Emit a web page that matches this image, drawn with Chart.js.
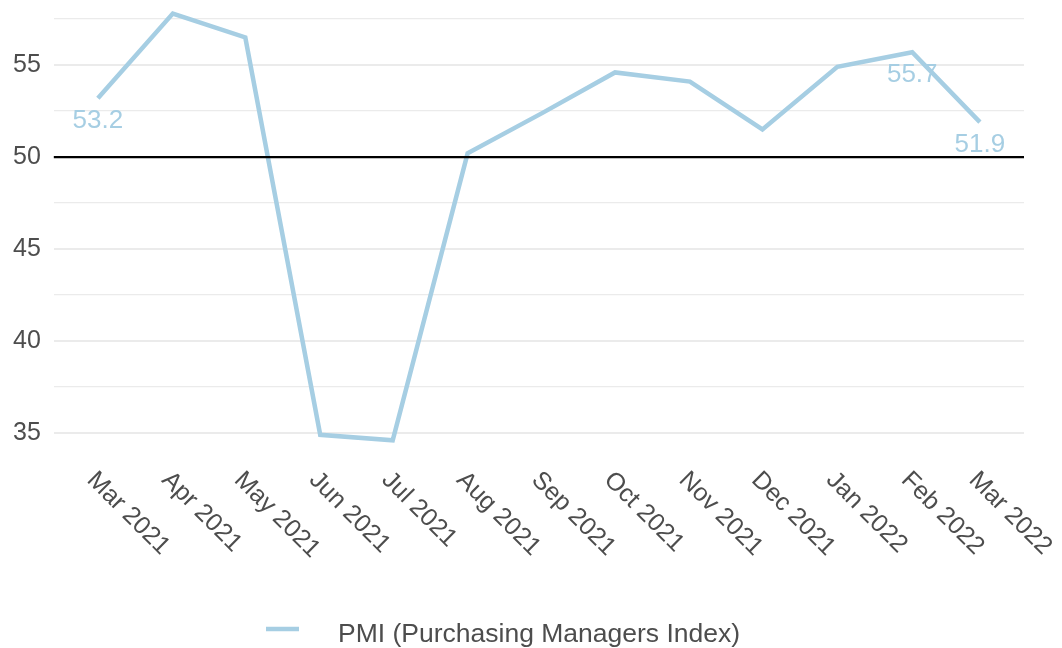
<!DOCTYPE html>
<html>
<head>
<meta charset="utf-8">
<script src="https://cdn.jsdelivr.net/npm/chart.js@4/dist/chart.umd.min.js"></script>
<style>
  html, body { margin: 0; padding: 0; background: #ffffff; }
  #wrap { width: 1062px; height: 648px; position: relative; }
</style>
</head>
<body>
<div id="wrap"><canvas id="myChart"></canvas></div>
<script>
// data
const dates = ["2021-03-01", "2021-04-01", "2021-05-01", "2021-06-01", "2021-07-01", "2021-08-01",
               "2021-09-01", "2021-10-01", "2021-11-01", "2021-12-01", "2022-01-01", "2022-02-01", "2022-03-01"];
const monthLabels = ["Mar 2021", "Apr 2021", "May 2021", "Jun 2021", "Jul 2021", "Aug 2021",
                     "Sep 2021", "Oct 2021", "Nov 2021", "Dec 2021", "Jan 2022", "Feb 2022", "Mar 2022"];
const pmi = [53.2, 57.8, 56.5, 34.9, 34.6, 50.2, 52.4, 54.6, 54.1, 51.5, 54.9, 55.7, 51.9];
const labelledPoints = [0, 11, 12];
const yTicks = [35, 37.5, 40, 42.5, 45, 47.5, 50, 52.5, 55, 57.5];
const refValue = 50;
const seriesName = "PMI (Purchasing Managers Index)";

const lineColor = "#a6cee3";
const textColor = "#4d4d4d";
const fontFamily = "'Liberation Sans', Arial, sans-serif";

// dates -> days since first month, for a linear x scale
const day0 = Date.parse(dates[0]);
const xDays = dates.map(d => (Date.parse(d) - day0) / 86400000);
const span = xDays[xDays.length - 1];

const points = xDays.map((x, i) => ({ x: x, y: pmi[i] }));

const extras = {
    id: "extras",
    afterDatasetsDraw(chart) {
        const ctx = chart.ctx;
        const ys = chart.scales.y;
        const area = chart.chartArea;

        // reference line
        const yRef = ys.getPixelForValue(refValue);
        ctx.save();
        ctx.strokeStyle = "#000000";
        ctx.lineWidth = 2.3;
        ctx.beginPath();
        ctx.moveTo(area.left, yRef);
        ctx.lineTo(area.right, yRef);
        ctx.stroke();
        ctx.restore();

        // value labels
        const meta = chart.getDatasetMeta(0);
        ctx.save();
        ctx.fillStyle = lineColor;
        ctx.font = "26px " + fontFamily;
        ctx.textAlign = "center";
        ctx.textBaseline = "alphabetic";
        labelledPoints.forEach(i => {
            const p = meta.data[i];
            ctx.fillText(pmi[i].toFixed(1), p.x, p.y + 30);
        });
        ctx.restore();
    },
    afterDraw(chart) {
        const ctx = chart.ctx;
        const xs = chart.scales.x;

        // rotated month labels
        ctx.save();
        ctx.fillStyle = textColor;
        ctx.font = "25px " + fontFamily;
        ctx.textAlign = "left";
        ctx.textBaseline = "alphabetic";
        xDays.forEach((d, i) => {
            const px = xs.getPixelForValue(d);
            ctx.save();
            ctx.translate(px - 12, 481);
            ctx.rotate(Math.PI / 4);
            ctx.fillText(monthLabels[i], 0, 0);
            ctx.restore();
        });
        ctx.restore();

        // legend
        ctx.save();
        ctx.strokeStyle = lineColor;
        ctx.lineWidth = 4.5;
        ctx.beginPath();
        ctx.moveTo(266, 629);
        ctx.lineTo(299, 629);
        ctx.stroke();
        ctx.fillStyle = textColor;
        ctx.font = "26.5px " + fontFamily;
        ctx.textAlign = "left";
        ctx.textBaseline = "alphabetic";
        ctx.fillText(seriesName, 338, 642);
        ctx.restore();
    }
};

var chart = new Chart("myChart", {
    type: "line",
    data: {
        datasets: [
            {
                label: seriesName,
                data: points,
                borderColor: lineColor,
                borderWidth: 4.5,
                pointRadius: 0,
                pointHoverRadius: 0,
                tension: 0,
                fill: false,
                clip: false
            }
        ]
    },
    options: {
        responsive: true,
        maintainAspectRatio: false,
        animation: false,
        layout: { padding: { left: 0, right: 38, top: 0, bottom: 186 } },
        plugins: {
            legend: { display: false },
            tooltip: { enabled: false }
        },
        scales: {
            x: {
                type: "linear",
                display: false,
                min: -0.05 * span,
                max: span * 1.05
            },
            y: {
                type: "linear",
                min: 33.42,
                max: 57.83,
                afterBuildTicks: axis => {
                    axis.ticks = yTicks.map(v => ({ value: v }));
                },
                border: { display: false },
                grid: {
                    drawTicks: false,
                    color: "#ebebeb",
                    lineWidth: ctx => (ctx.tick && ctx.tick.value % 5 === 0) ? 2 : 1.3
                },
                ticks: {
                    padding: 13,
                    color: textColor,
                    font: { size: 25, family: fontFamily },
                    callback: v => (v % 5 === 0 ? String(v) : [])
                }
            }
        }
    },
    plugins: [extras]
});
</script>
</body>
</html>
